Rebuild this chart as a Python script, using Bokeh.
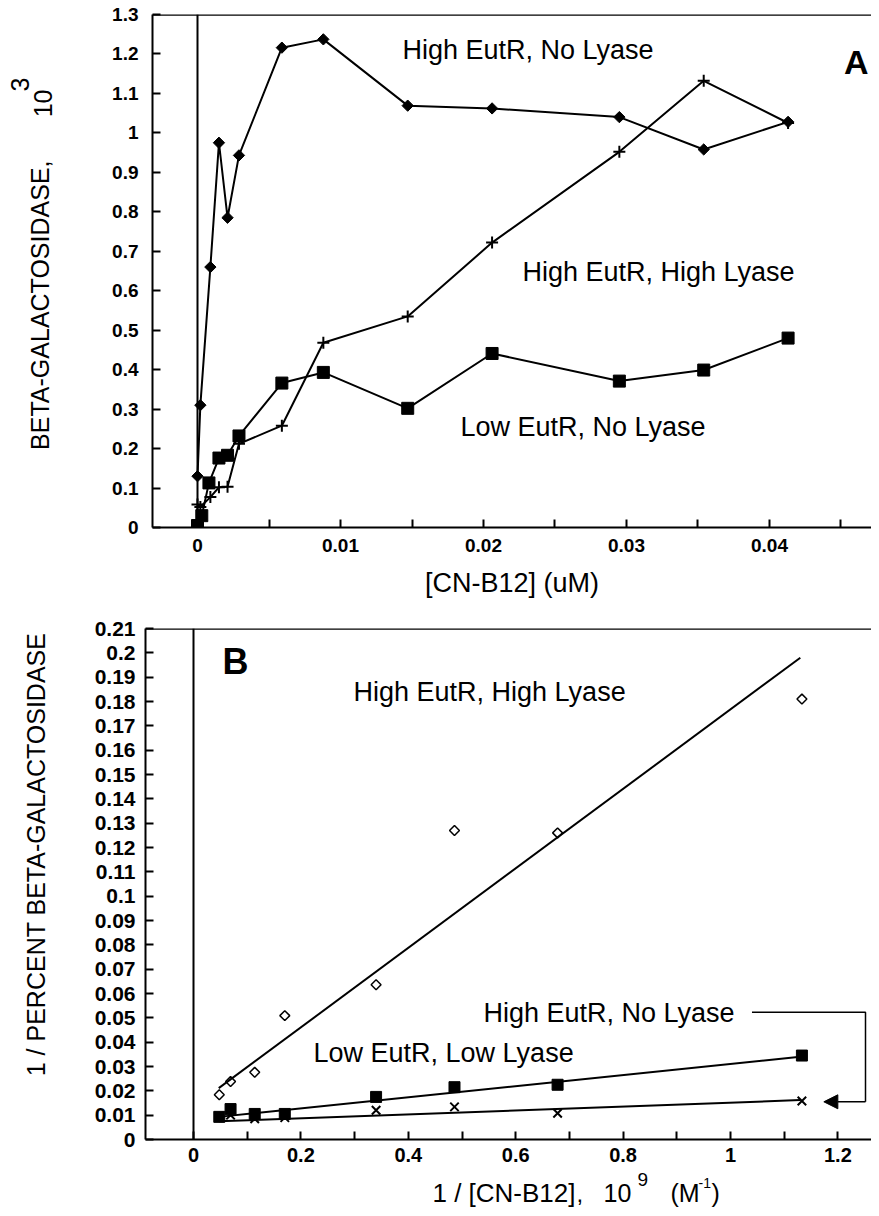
import math
from bokeh.plotting import figure
from bokeh.models import Span, Label, FixedTicker, CustomJSTickFormatter, Range1d, Arrow, NormalHead
from bokeh.layouts import column, row
from bokeh.embed import file_html
from bokeh.resources import INLINE

FONT = "Liberation Sans"

# ---------------- Panel A data ([CN-B12] uM vs beta-galactosidase x10^3) -------------
a_hi_nolyase_x = [0.0, 0.0002, 0.0009, 0.0015, 0.0021, 0.0029, 0.0059, 0.0088, 0.0147, 0.0206, 0.0295, 0.0354, 0.0413]
a_hi_nolyase_y = [0.13, 0.31, 0.66, 0.975, 0.785, 0.943, 1.216, 1.237, 1.069, 1.062, 1.040, 0.958, 1.028]

a_hi_hilyase_x = [0.0, 0.0002, 0.0009, 0.0015, 0.0021, 0.0029, 0.0059, 0.0088, 0.0147, 0.0206, 0.0295, 0.0354, 0.0413]
a_hi_hilyase_y = [0.058, 0.052, 0.077, 0.102, 0.103, 0.212, 0.258, 0.468, 0.535, 0.722, 0.952, 1.132, 1.025]

a_lo_nolyase_x = [0.0, 0.0003, 0.0008, 0.0015, 0.0021, 0.0029, 0.0059, 0.0088, 0.0147, 0.0206, 0.0295, 0.0354, 0.0413]
a_lo_nolyase_y = [0.005, 0.030, 0.113, 0.176, 0.183, 0.232, 0.366, 0.393, 0.302, 0.441, 0.371, 0.399, 0.480]

a_xticks = [0, 0.01, 0.02, 0.03, 0.04]
a_xminor = [0.005, 0.015, 0.025, 0.035, 0.045]
a_yticks = [0, 0.1, 0.2, 0.3, 0.4, 0.5, 0.6, 0.7, 0.8, 0.9, 1.0, 1.1, 1.2, 1.3]

# ---------------- Panel B data (double reciprocal) ----------------
b_x = [0.048, 0.069, 0.114, 0.170, 0.340, 0.486, 0.678, 1.133]
b_hi_hilyase_y = [0.0184, 0.0238, 0.0276, 0.0509, 0.0636, 0.127, 0.126, 0.181]
b_lo_lolyase_y = [0.0093, 0.0125, 0.0105, 0.0105, 0.0175, 0.0215, 0.0225, 0.0345]
b_hi_nolyase_y = [0.0095, 0.0100, 0.0085, 0.0090, 0.0120, 0.0134, 0.0108, 0.0158]

b_fit_x = [0.047, 1.130]
b_fit_hi_hilyase = [0.0211, 0.1980]
b_fit_lo_lolyase = [0.0093, 0.0340]
b_fit_hi_nolyase = [0.0075, 0.0162]

b_xticks = [0, 0.2, 0.4, 0.6, 0.8, 1.0, 1.2]
b_xminor = [0.1, 0.3, 0.5, 0.7, 0.9, 1.1]
b_yticks = [i / 100 for i in range(22)]

# connector from "High EutR, No Lyase" label to its line
b_conn_x = [1.040, 1.2514, 1.2514]
b_conn_y = [0.0523, 0.0523, 0.0155]

FMT = CustomJSTickFormatter(code="return String(Number(tick.toFixed(4)));")


def style(p, xt, xm, yt, xsize, ysize, sx, sy):
    p.xgrid.visible = False
    p.ygrid.visible = False
    p.outline_line_color = None
    p.background_fill_color = "white"
    p.border_fill_color = "white"
    p.xaxis.ticker = FixedTicker(ticks=xt, minor_ticks=xm)
    p.yaxis.ticker = FixedTicker(ticks=yt, minor_ticks=[])
    for ax in (p.xaxis[0], p.yaxis[0]):
        ax.formatter = FMT
        ax.axis_line_width = 2
        ax.axis_line_color = "black"
        ax.major_tick_in = 8
        ax.major_tick_out = 0
        ax.minor_tick_in = 8
        ax.minor_tick_out = 0
        ax.major_tick_line_width = 2
        ax.minor_tick_line_width = 2
        ax.major_tick_line_color = "black"
        ax.minor_tick_line_color = "black"
        ax.major_label_text_font = FONT
        ax.major_label_text_font_style = "bold"
        ax.major_label_text_color = "black"
    p.xaxis.major_label_text_font_size = xsize
    p.yaxis.major_label_text_font_size = ysize
    p.xaxis.major_label_standoff = sx
    p.yaxis.major_label_standoff = sy


def strip(w, h, x0, x1, ytop, ybot):
    s = figure(width=w, height=h, output_backend="svg", toolbar_location=None,
               x_range=Range1d(x0, x1), y_range=Range1d(ybot, ytop),
               x_axis_location=None, y_axis_location=None,
               min_border=0, min_border_left=0, min_border_right=0, min_border_top=0, min_border_bottom=0)
    s.outline_line_color = None
    s.xgrid.visible = False
    s.ygrid.visible = False
    s.background_fill_color = "white"
    s.border_fill_color = "white"
    return s


def lab(p, x, y, text, size, style_="normal", align="left", baseline="middle", angle=0.0):
    p.add_layout(Label(x=x, y=y, text=text, text_font=FONT, text_font_size=size,
                       text_font_style=style_, text_align=align, text_baseline=baseline,
                       angle=angle, text_color="black"))


# ======================= Panel A =======================
pa = figure(width=811, height=600, output_backend="svg", toolbar_location=None,
            x_range=Range1d(-0.003147, 0.047133), y_range=Range1d(0, 1.3),
            min_border_left=92, min_border_right=0, min_border_top=14, min_border_bottom=71)
style(pa, a_xticks, a_xminor, a_yticks, "19px", "19px", 11, 14)
pa.xaxis.axis_label = "[CN-B12] (uM)"
pa.xaxis.axis_label_text_font = FONT
pa.xaxis.axis_label_text_font_style = "normal"
pa.xaxis.axis_label_text_font_size = "27px"
pa.xaxis.axis_label_text_color = "black"
pa.xaxis.axis_label_standoff = 13

pa.add_layout(Span(location=0, dimension="height", line_color="black", line_width=2))
pa.add_layout(Span(location=1.3, dimension="width", line_color="black", line_width=2.5))

pa.line(a_hi_nolyase_x, a_hi_nolyase_y, line_color="black", line_width=2)
pa.scatter(a_hi_nolyase_x, a_hi_nolyase_y, marker="square", angle=math.pi / 4, size=8,
           fill_color="black", line_color="black")
pa.line(a_hi_hilyase_x, a_hi_hilyase_y, line_color="black", line_width=2)
pa.scatter(a_hi_hilyase_x, a_hi_hilyase_y, marker="cross", size=12, line_color="black", line_width=2)
pa.line(a_lo_nolyase_x, a_lo_nolyase_y, line_color="black", line_width=2)
pa.scatter(a_lo_nolyase_x, a_lo_nolyase_y, marker="square", size=12, fill_color="black", line_color="black")

ax_ = lambda px: (px - 197) / 14300.0
ay_ = lambda py: (529 - py) / 396.15
lab(pa, ax_(402), ay_(50), "High EutR, No Lyase", "27px")
lab(pa, ax_(522), ay_(273), "High EutR, High Lyase", "27px")
lab(pa, ax_(460), ay_(428), "Low EutR, No Lyase", "27px")
lab(pa, ax_(868), ay_(62), "A", "34px", "bold", align="right")

# y-axis title strip for A (page pixel coordinates)
sa = strip(60, 600, 0, 60, 0, 600)
lab(sa, 39, 340, "BETA-GALACTOSIDASE,", "25px", angle=math.pi / 2, align="center")
lab(sa, 42, 104, "10", "25px", angle=math.pi / 2, align="center")
lab(sa, 19, 82, "3", "25px", angle=math.pi / 2, align="center")

# ======================= Panel B =======================
pb = figure(width=811, height=570, output_backend="svg", toolbar_location=None,
            x_range=Range1d(-0.0894, 1.26257), y_range=Range1d(0, 0.21),
            min_border_left=85, min_border_right=0, min_border_top=28, min_border_bottom=31)
style(pb, b_xticks, b_xminor, b_yticks, "20px", "21px", 8, 10)

pb.add_layout(Span(location=0, dimension="height", line_color="black", line_width=2))
pb.add_layout(Span(location=0.21, dimension="width", line_color="black", line_width=2.5))

pb.line(b_fit_x, b_fit_hi_hilyase, line_color="black", line_width=2)
pb.line(b_fit_x, b_fit_lo_lolyase, line_color="black", line_width=2)
pb.line(b_fit_x, b_fit_hi_nolyase, line_color="black", line_width=2)
pb.scatter(b_x, b_hi_hilyase_y, marker="square", angle=math.pi / 4, size=7,
           fill_color=None, line_color="black", line_width=1.5)
pb.scatter(b_x, b_lo_lolyase_y, marker="square", size=11, fill_color="black", line_color="black")
pb.scatter(b_x, b_hi_nolyase_y, marker="x", size=12, line_color="black", line_width=2)

pb.line(b_conn_x, b_conn_y, line_color="black", line_width=1.5)
pb.add_layout(Arrow(end=NormalHead(size=14, fill_color="black", line_color="black"),
                    x_start=1.2514, y_start=0.0155, x_end=1.1738, y_end=0.0155,
                    line_color="black", line_width=1.5))

bx_ = lambda px: (px - 193) / 537.0
by_ = lambda py: (1139 - py) / 2433.0
lab(pb, bx_(353), by_(692), "High EutR, High Lyase", "27px")
lab(pb, bx_(483), by_(1013), "High EutR, No Lyase", "27px")
lab(pb, bx_(313), by_(1053), "Low EutR, Low Lyase", "27px")
lab(pb, bx_(222), by_(661), "B", "36px", "bold")

sb = strip(60, 570, 0, 60, 600, 1170)
lab(sb, 35, 852, "1 / PERCENT BETA-GALACTOSIDASE", "25px", angle=math.pi / 2, align="center")

# x-axis title strip for B (page pixel coordinates)
sx = strip(871, 38, 0, 871, 1170, 1208)
lab(sx, 575, 1192, "1 / [CN-B12]", "26px", align="right")
lab(sx, 576, 1193, ",", "24px")
lab(sx, 603, 1192, "10", "25px")
lab(sx, 637, 1179, "9", "19px")
lab(sx, 670, 1192, "(M", "25px")
lab(sx, 698, 1182, "-1", "14px")
lab(sx, 711, 1192, ")", "25px")

layout = column(row(sa, pa), row(sb, pb), sx)
open("out.html", "w").write(file_html(layout, INLINE))
